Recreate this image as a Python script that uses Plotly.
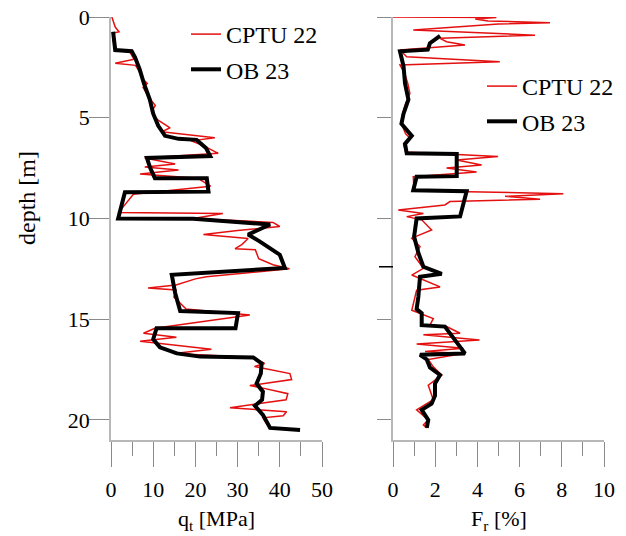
import plotly.graph_objects as go

# ---- data: left panel (cone resistance q_t, MPa) ----
cptu_q_depth = [0.0, 0.2, 0.5, 0.73, 0.8, 1.2, 1.64, 1.75, 2.1, 2.3, 2.4, 2.7, 3.0, 3.3, 3.5, 4.0, 4.4, 4.7,
                5.1, 5.5, 5.7, 6.0, 6.15, 6.4, 6.77, 7.0, 7.3, 7.45, 7.6, 7.8, 8.0, 8.4, 8.8, 9.5, 9.7, 9.75,
                10.0, 10.2, 10.4, 10.6, 10.8, 11.0, 11.3, 11.5, 11.55, 12.0, 12.3, 12.5, 12.9, 13.0, 13.3,
                13.45, 13.55, 13.9, 14.2, 14.5, 14.8, 15.1, 15.45, 15.7, 15.9, 16.1, 16.5, 16.7, 16.9, 17.2,
                17.35, 17.7, 18.0, 18.3, 18.4, 18.7, 19.0, 19.4, 19.5, 19.6, 19.8, 19.9, 20.2, 20.4]
cptu_q = [0.2, 0.5, 1.0, 1.9, 0.6, 0.5, 1.4, 4.5, 5.5, 1.0, 5.8, 6.7, 7.2, 8.6, 7.6, 9.0, 10.5, 9.6,
          11.0, 14.0, 12.0, 24.6, 19.0, 22.0, 25.4, 8.0, 15.2, 8.0, 16.0, 6.9, 20.5, 23.6, 5.3, 2.6, 1.7, 26.5,
          19.5, 38.4, 40.0, 30.0, 21.9, 32.5, 31.0, 29.4, 34.2, 35.0, 38.4, 42.3, 22.6, 20.0, 15.4,
          8.8, 15.4, 14.9, 16.4, 17.8, 32.9, 22.0, 10.4, 7.7, 15.5, 6.9, 23.8, 15.0, 33.6, 36.4,
          34.0, 42.4, 42.8, 32.9, 35.5, 41.9, 41.5, 28.2, 34.2, 41.6, 40.8, 36.0, 36.9, 38.0]

ob_q_depth = [0.73, 1.0, 1.5, 1.64, 1.7, 2.0, 2.6, 3.3, 4.1, 4.8, 5.4, 5.9, 6.05, 6.1, 6.5, 6.9, 7.0, 7.5,
              8.0, 8.0, 8.67, 8.7, 10.0, 10.02, 10.3, 10.8, 11.15, 11.8, 12.46, 12.8, 13.7, 14.6, 14.7,
              15.45, 15.45, 16.0, 16.4, 16.7, 16.86, 16.9, 17.2, 17.7, 18.2, 18.6, 19.0, 19.3, 19.75,
              20.1, 20.4, 20.5]
ob_q = [0.5, 0.6, 0.8, 1.0, 4.9, 5.7, 6.8, 7.8, 9.2, 10.0, 11.2, 12.8, 16.0, 20.3, 22.5, 23.5, 8.5, 9.3,
        10.4, 22.7, 23.1, 3.3, 1.7, 19.5, 37.7, 32.5, 35.3, 40.0, 41.2, 14.4, 15.2, 16.4, 30.1,
        29.5, 10.8, 10.0, 11.6, 15.6, 21.1, 33.7, 35.7, 35.5, 34.5, 36.0, 35.8, 34.1, 36.0,
        36.9, 37.7, 44.8]

# ---- data: right panel (friction ratio F_r, %) ----
cptu_f_depth = [0.0, 0.02, 0.1, 0.2, 0.28, 0.35, 0.65, 0.9, 1.06, 1.23, 1.39, 1.64, 1.97, 2.22, 2.38,
                2.8, 3.3, 3.8, 4.3, 4.8, 5.3, 5.8, 6.0, 6.3, 6.7, 6.93, 7.1, 7.35, 7.5, 7.7, 7.93,
                8.3, 8.6, 8.67, 8.78, 8.9, 9.05, 9.16, 9.33, 9.58, 9.75, 9.91, 10.07, 10.57, 10.98,
                11.4, 11.9, 12.48, 12.81, 13.4, 13.56, 14.56, 14.97, 15.3, 15.37, 15.7, 15.78, 16.03,
                16.23, 16.45, 16.61, 16.7, 17.0, 17.37, 17.78, 18.28, 18.5, 19.0, 19.5, 20.0, 20.25, 20.4]
cptu_f = [0.0, 4.9, 3.9, 4.5, 7.44, 5.0, 0.96, 6.73, 2.23, 2.54, 3.41, 0.33, 0.65, 5.06, 0.33,
          0.55, 0.7, 0.8, 0.6, 0.45, 0.4, 0.6, 0.8, 0.5, 0.6, 4.98, 3.02, 4.2, 2.54, 3.96, 0.96,
          1.0, 1.0, 3.57, 8.07, 5.31, 6.97, 2.7, 2.46, 0.25, 1.44, 0.65, 1.36, 1.83, 0.89,
          1.28, 1.04, 1.44, 0.89, 2.23, 1.12, 0.89, 1.91, 1.75, 2.54, 3.18, 1.44, 4.1,
          1.12, 3.33, 1.52, 3.33, 1.67, 1.91, 2.31, 1.67, 1.75, 1.91, 1.12, 1.67, 1.44, 1.6]

ob_f_depth = [0.94, 1.3, 1.62, 1.7, 2.45, 3.3, 4.1, 4.8, 5.3, 5.9, 6.3, 6.77, 6.8, 7.9, 7.93, 8.6, 8.65,
              9.9, 10.0, 10.9, 11.7, 12.4, 12.75, 12.9, 13.9, 14.5, 14.7, 15.3, 15.37, 16.7, 16.77,
              17.0, 17.4, 17.77, 18.2, 18.8, 19.2, 19.5, 20.0, 20.4]
ob_f = [2.23, 1.75, 1.65, 0.33, 0.5, 0.57, 0.73, 0.5, 0.4, 0.89, 0.57, 0.65, 3.02, 3.02, 1.12, 0.96, 3.49,
        3.18, 1.12, 1.0, 1.2, 1.44, 2.31, 1.28, 1.2, 1.12, 1.36, 1.36, 2.46, 3.41, 1.28,
        1.6, 1.75, 2.23, 1.99, 1.99, 1.83, 1.36, 1.67, 1.6]

depth_ticks = [0, 5, 10, 15, 20]
q_ticks = [0, 10, 20, 30, 40, 50]
f_ticks = [0, 2, 4, 6, 8, 10]

RED = "rgb(228,16,16)"
FONT = "Liberation Serif"
AXGRAY = "#b8b8b8"
TICKGRAY = "#8a8a8a"

fig = go.Figure()
fig.add_trace(go.Scatter(x=cptu_q, y=cptu_q_depth, mode="lines", name="CPTU 22",
                         line=dict(color=RED, width=1.5), xaxis="x", yaxis="y",
                         legend="legend", legendgroup="a"))
fig.add_trace(go.Scatter(x=ob_q, y=ob_q_depth, mode="lines", name="OB 23",
                         line=dict(color="black", width=4), xaxis="x", yaxis="y",
                         legend="legend", legendgroup="b"))
fig.add_trace(go.Scatter(x=cptu_f, y=cptu_f_depth, mode="lines", name="CPTU 22",
                         line=dict(color=RED, width=1.5), xaxis="x2", yaxis="y2",
                         legend="legend2", legendgroup="c"))
fig.add_trace(go.Scatter(x=ob_f, y=ob_f_depth, mode="lines", name="OB 23",
                         line=dict(color="black", width=4), xaxis="x2", yaxis="y2",
                         legend="legend2", legendgroup="d"))

W, H = 626, 536
# the page is offset 8 px by the body margin; positions below are in figure pixels
ydom = [(H - 432) / H, (H - 9) / H]
depth_range = [21, 0]

xstyle = dict(showline=True, linecolor=AXGRAY, linewidth=1.5, ticks="outside", ticklen=25,
              tickcolor=TICKGRAY, tickwidth=1.2, showgrid=False, zeroline=False, automargin=False,
              tickfont=dict(family=FONT, size=22, color="black"), ticklabelstandoff=4,
              ticklabeloverflow="allow")

fig.update_layout(
    width=W, height=H,
    margin=dict(l=0, r=0, t=0, b=0, autoexpand=False),
    paper_bgcolor="white", plot_bgcolor="white",
    font=dict(family=FONT, color="black"),
    xaxis=dict(domain=[103 / W, 314 / W], range=[0, 50], tickvals=q_ticks, anchor="y",
               minor=dict(dtick=5, ticklen=14, tickcolor=TICKGRAY, ticks="outside", tickwidth=1.2),
               **xstyle),
    xaxis2=dict(domain=[385 / W, 596 / W], range=[0, 10], tickvals=f_ticks, anchor="y2",
                minor=dict(dtick=1, ticklen=14, tickcolor=TICKGRAY, ticks="outside", tickwidth=1.2),
                **xstyle),
    yaxis=dict(domain=ydom, range=depth_range, tickvals=depth_ticks, anchor="x", automargin=False,
               showline=True, linecolor=AXGRAY, linewidth=1.5, ticks="outside", ticklen=20,
               tickcolor=TICKGRAY, tickwidth=1.2, showgrid=False, zeroline=False,
               tickfont=dict(family=FONT, size=22, color="black"), ticklabelstandoff=-5,
               ticklabeloverflow="allow"),
    yaxis2=dict(domain=ydom, range=depth_range, tickvals=depth_ticks, anchor="x2", automargin=False,
                showline=True, linecolor=AXGRAY, linewidth=1.5, ticks="outside", ticklen=14,
                tickcolor=TICKGRAY, tickwidth=1.2, showgrid=False, zeroline=False,
                showticklabels=False),
    legend=dict(xref="container", yref="container", x=178 / W, y=1 - 4 / H,
                xanchor="left", yanchor="top",
                font=dict(family=FONT, size=24, color="black"), bgcolor="rgba(0,0,0,0)",
                tracegroupgap=1, traceorder="grouped"),
    legend2=dict(xref="container", yref="container", x=474 / W, y=1 - 56 / H,
                 xanchor="left", yanchor="top",
                 font=dict(family=FONT, size=24, color="black"), bgcolor="rgba(0,0,0,0)",
                 tracegroupgap=1, traceorder="grouped"),
    showlegend=True,
    annotations=[
        dict(text="q<sub>t</sub> [MPa]", xref="x domain", yref="paper", x=0.5, y=1 - 512 / H,
             showarrow=False, font=dict(family=FONT, size=22), xanchor="center", yanchor="middle"),
        dict(text="F<sub>r</sub> [%]", xref="x2 domain", yref="paper", x=0.5, y=1 - 512 / H,
             showarrow=False, font=dict(family=FONT, size=22), xanchor="center", yanchor="middle"),
        dict(text="depth [m]", xref="paper", yref="paper", x=19 / W, y=1 - 190 / H, textangle=-90,
             showarrow=False, font=dict(family=FONT, size=24), xanchor="center", yanchor="middle"),
    ],
    shapes=[
        dict(type="line", xref="x2 domain", yref="y2", x0=-14 / 211, x1=0, y0=12.4, y1=12.4,
             line=dict(color="black", width=1.5)),
    ],
)

fig.write_html("out.html")
